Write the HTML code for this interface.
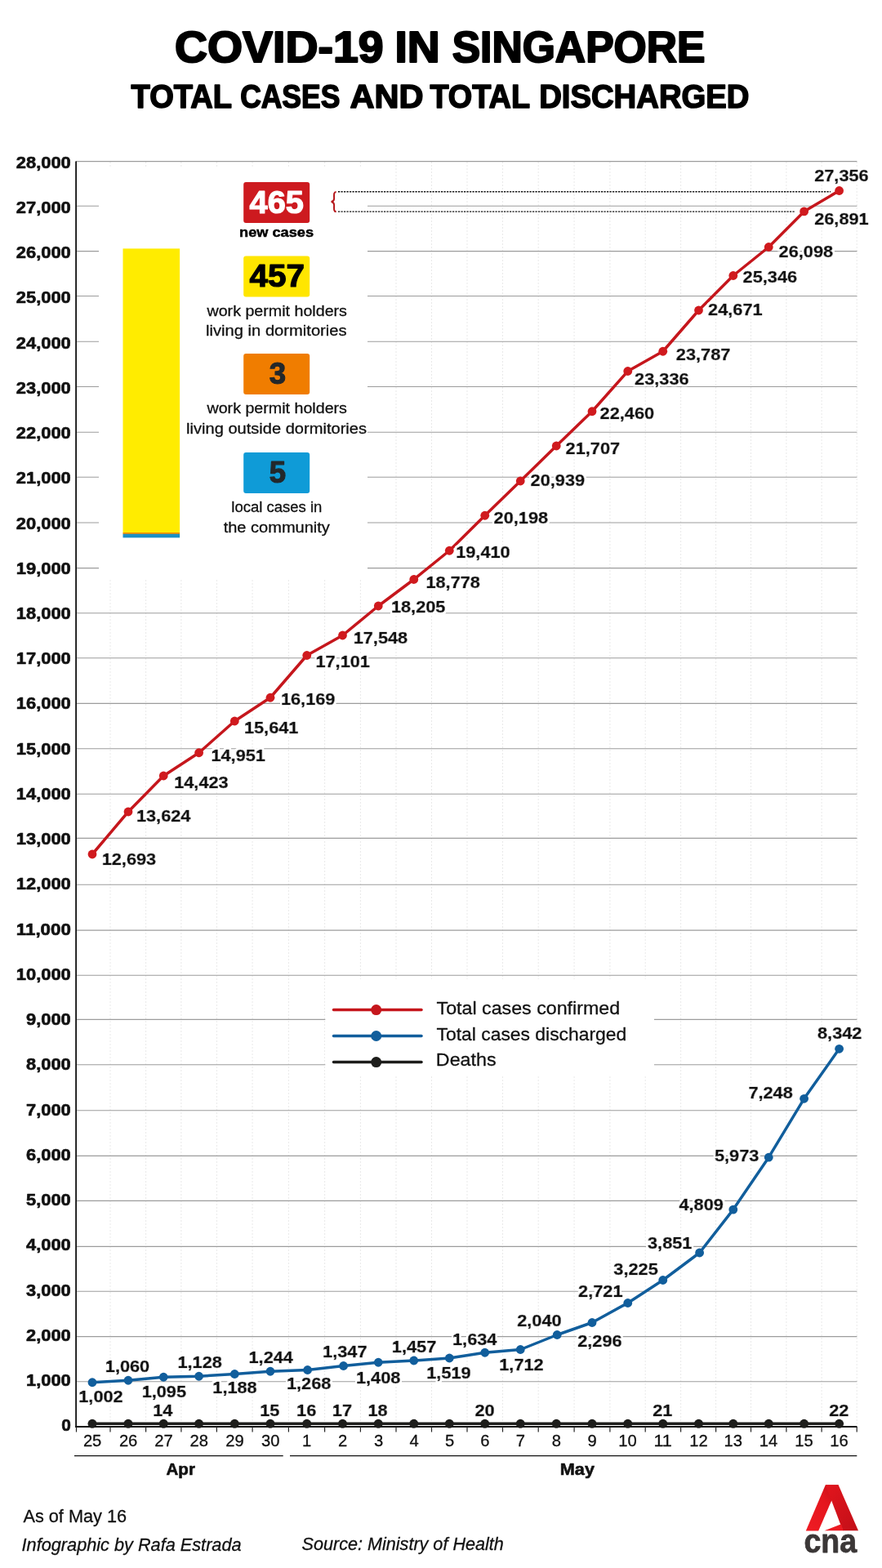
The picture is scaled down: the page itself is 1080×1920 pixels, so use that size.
<!DOCTYPE html>
<html lang="en"><head><meta charset="utf-8"><title>COVID-19 in Singapore</title>
<style>html,body{margin:0;padding:0;background:#fff}svg{display:block}</style></head>
<body>
<svg width="1080" height="1920" viewBox="0 0 1080 1920" font-family="'Liberation Sans', Arial, sans-serif">
<defs><filter id="halo" x="-10%" y="-25%" width="120%" height="150%"><feMorphology in="SourceAlpha" operator="dilate" radius="1.6" result="d"/><feGaussianBlur in="d" stdDeviation="0.4" result="b"/><feFlood flood-color="#fff"/><feComposite in2="b" operator="in" result="w"/><feMerge><feMergeNode in="w"/><feMergeNode in="w"/><feMergeNode in="SourceGraphic"/></feMerge></filter></defs>
<rect width="1080" height="1920" fill="#fff"/>
<line x1="135.0" y1="198" x2="135.0" y2="1746" stroke="#e9e9e9" stroke-width="1" stroke-dasharray="2 2"/>
<line x1="178.6" y1="198" x2="178.6" y2="1746" stroke="#e9e9e9" stroke-width="1" stroke-dasharray="2 2"/>
<line x1="221.9" y1="198" x2="221.9" y2="1746" stroke="#e9e9e9" stroke-width="1" stroke-dasharray="2 2"/>
<line x1="265.4" y1="198" x2="265.4" y2="1746" stroke="#e9e9e9" stroke-width="1" stroke-dasharray="2 2"/>
<line x1="309.1" y1="198" x2="309.1" y2="1746" stroke="#e9e9e9" stroke-width="1" stroke-dasharray="2 2"/>
<line x1="353.4" y1="198" x2="353.4" y2="1746" stroke="#e9e9e9" stroke-width="1" stroke-dasharray="2 2"/>
<line x1="397.6" y1="198" x2="397.6" y2="1746" stroke="#e9e9e9" stroke-width="1" stroke-dasharray="2 2"/>
<line x1="441.4" y1="198" x2="441.4" y2="1746" stroke="#e9e9e9" stroke-width="1" stroke-dasharray="2 2"/>
<line x1="485.0" y1="198" x2="485.0" y2="1746" stroke="#e9e9e9" stroke-width="1" stroke-dasharray="2 2"/>
<line x1="528.5" y1="198" x2="528.5" y2="1746" stroke="#e9e9e9" stroke-width="1" stroke-dasharray="2 2"/>
<line x1="572.0" y1="198" x2="572.0" y2="1746" stroke="#e9e9e9" stroke-width="1" stroke-dasharray="2 2"/>
<line x1="615.5" y1="198" x2="615.5" y2="1746" stroke="#e9e9e9" stroke-width="1" stroke-dasharray="2 2"/>
<line x1="659.2" y1="198" x2="659.2" y2="1746" stroke="#e9e9e9" stroke-width="1" stroke-dasharray="2 2"/>
<line x1="703.1" y1="198" x2="703.1" y2="1746" stroke="#e9e9e9" stroke-width="1" stroke-dasharray="2 2"/>
<line x1="746.9" y1="198" x2="746.9" y2="1746" stroke="#e9e9e9" stroke-width="1" stroke-dasharray="2 2"/>
<line x1="790.2" y1="198" x2="790.2" y2="1746" stroke="#e9e9e9" stroke-width="1" stroke-dasharray="2 2"/>
<line x1="833.6" y1="198" x2="833.6" y2="1746" stroke="#e9e9e9" stroke-width="1" stroke-dasharray="2 2"/>
<line x1="876.6" y1="198" x2="876.6" y2="1746" stroke="#e9e9e9" stroke-width="1" stroke-dasharray="2 2"/>
<line x1="919.5" y1="198" x2="919.5" y2="1746" stroke="#e9e9e9" stroke-width="1" stroke-dasharray="2 2"/>
<line x1="962.9" y1="198" x2="962.9" y2="1746" stroke="#e9e9e9" stroke-width="1" stroke-dasharray="2 2"/>
<line x1="1006.1" y1="198" x2="1006.1" y2="1746" stroke="#e9e9e9" stroke-width="1" stroke-dasharray="2 2"/>
<line x1="1049.2" y1="198" x2="1049.2" y2="1746" stroke="#e9e9e9" stroke-width="1" stroke-dasharray="2 2"/>
<line x1="93.1" y1="1691.80" x2="1049.4" y2="1691.80" stroke="#9c9c9c" stroke-width="1.1"/>
<line x1="93.1" y1="1636.60" x2="1049.4" y2="1636.60" stroke="#9c9c9c" stroke-width="1.1"/>
<line x1="93.1" y1="1581.20" x2="1049.4" y2="1581.20" stroke="#9c9c9c" stroke-width="1.1"/>
<line x1="93.1" y1="1526.40" x2="1049.4" y2="1526.40" stroke="#9c9c9c" stroke-width="1.1"/>
<line x1="93.1" y1="1470.40" x2="1049.4" y2="1470.40" stroke="#9c9c9c" stroke-width="1.1"/>
<line x1="93.1" y1="1415.40" x2="1049.4" y2="1415.40" stroke="#9c9c9c" stroke-width="1.1"/>
<line x1="93.1" y1="1359.80" x2="1049.4" y2="1359.80" stroke="#9c9c9c" stroke-width="1.1"/>
<line x1="93.1" y1="1303.80" x2="1049.4" y2="1303.80" stroke="#9c9c9c" stroke-width="1.1"/>
<line x1="93.1" y1="1248.40" x2="1049.4" y2="1248.40" stroke="#9c9c9c" stroke-width="1.1"/>
<line x1="93.1" y1="1194.30" x2="1049.4" y2="1194.30" stroke="#9c9c9c" stroke-width="1.1"/>
<line x1="93.1" y1="1139.10" x2="1049.4" y2="1139.10" stroke="#9c9c9c" stroke-width="1.1"/>
<line x1="93.1" y1="1083.30" x2="1049.4" y2="1083.30" stroke="#9c9c9c" stroke-width="1.1"/>
<line x1="93.1" y1="1026.40" x2="1049.4" y2="1026.40" stroke="#9c9c9c" stroke-width="1.1"/>
<line x1="93.1" y1="972.20" x2="1049.4" y2="972.20" stroke="#9c9c9c" stroke-width="1.1"/>
<line x1="93.1" y1="916.70" x2="1049.4" y2="916.70" stroke="#9c9c9c" stroke-width="1.1"/>
<line x1="93.1" y1="861.40" x2="1049.4" y2="861.40" stroke="#9c9c9c" stroke-width="1.1"/>
<line x1="93.1" y1="805.70" x2="1049.4" y2="805.70" stroke="#9c9c9c" stroke-width="1.1"/>
<line x1="93.1" y1="750.70" x2="1049.4" y2="750.70" stroke="#9c9c9c" stroke-width="1.1"/>
<line x1="93.1" y1="695.60" x2="1049.4" y2="695.60" stroke="#9c9c9c" stroke-width="1.1"/>
<line x1="93.1" y1="640.00" x2="1049.4" y2="640.00" stroke="#9c9c9c" stroke-width="1.1"/>
<line x1="93.1" y1="584.20" x2="1049.4" y2="584.20" stroke="#9c9c9c" stroke-width="1.1"/>
<line x1="93.1" y1="529.20" x2="1049.4" y2="529.20" stroke="#9c9c9c" stroke-width="1.1"/>
<line x1="93.1" y1="473.50" x2="1049.4" y2="473.50" stroke="#9c9c9c" stroke-width="1.1"/>
<line x1="93.1" y1="418.20" x2="1049.4" y2="418.20" stroke="#9c9c9c" stroke-width="1.1"/>
<line x1="93.1" y1="362.50" x2="1049.4" y2="362.50" stroke="#9c9c9c" stroke-width="1.1"/>
<line x1="93.1" y1="307.60" x2="1049.4" y2="307.60" stroke="#9c9c9c" stroke-width="1.1"/>
<line x1="93.1" y1="252.30" x2="1049.4" y2="252.30" stroke="#9c9c9c" stroke-width="1.1"/>
<line x1="93.1" y1="197.60" x2="1049.4" y2="197.60" stroke="#9c9c9c" stroke-width="1.1"/>
<rect x="121" y="204" width="329" height="506" fill="#fff"/>
<rect x="398.3" y="1199" width="402.7" height="119" fill="#fff"/>
<text x="75.17" y="1752.32" font-size="19.6" textLength="11.58" lengthAdjust="spacingAndGlyphs" font-weight="700" fill="#111" stroke="#111" stroke-width="0.6" stroke-linejoin="round">0</text>
<text x="32.14" y="1697.08" font-size="19.6" textLength="54.65" lengthAdjust="spacingAndGlyphs" font-weight="700" fill="#111" stroke="#111" stroke-width="0.6" stroke-linejoin="round">1,000</text>
<text x="32.14" y="1641.84" font-size="19.6" textLength="54.66" lengthAdjust="spacingAndGlyphs" font-weight="700" fill="#111" stroke="#111" stroke-width="0.6" stroke-linejoin="round">2,000</text>
<text x="32.13" y="1586.60" font-size="19.6" textLength="54.66" lengthAdjust="spacingAndGlyphs" font-weight="700" fill="#111" stroke="#111" stroke-width="0.6" stroke-linejoin="round">3,000</text>
<text x="32.13" y="1531.36" font-size="19.6" textLength="54.66" lengthAdjust="spacingAndGlyphs" font-weight="700" fill="#111" stroke="#111" stroke-width="0.6" stroke-linejoin="round">4,000</text>
<text x="32.14" y="1476.12" font-size="19.6" textLength="54.66" lengthAdjust="spacingAndGlyphs" font-weight="700" fill="#111" stroke="#111" stroke-width="0.6" stroke-linejoin="round">5,000</text>
<text x="32.14" y="1420.88" font-size="19.6" textLength="54.66" lengthAdjust="spacingAndGlyphs" font-weight="700" fill="#111" stroke="#111" stroke-width="0.6" stroke-linejoin="round">6,000</text>
<text x="32.14" y="1365.64" font-size="19.6" textLength="54.66" lengthAdjust="spacingAndGlyphs" font-weight="700" fill="#111" stroke="#111" stroke-width="0.6" stroke-linejoin="round">7,000</text>
<text x="32.14" y="1310.40" font-size="19.6" textLength="54.66" lengthAdjust="spacingAndGlyphs" font-weight="700" fill="#111" stroke="#111" stroke-width="0.6" stroke-linejoin="round">8,000</text>
<text x="32.14" y="1255.16" font-size="19.6" textLength="54.66" lengthAdjust="spacingAndGlyphs" font-weight="700" fill="#111" stroke="#111" stroke-width="0.6" stroke-linejoin="round">9,000</text>
<text x="19.86" y="1199.92" font-size="19.6" textLength="66.94" lengthAdjust="spacingAndGlyphs" font-weight="700" fill="#111" stroke="#111" stroke-width="0.6" stroke-linejoin="round">10,000</text>
<text x="19.86" y="1144.68" font-size="19.6" textLength="66.94" lengthAdjust="spacingAndGlyphs" font-weight="700" fill="#111" stroke="#111" stroke-width="0.6" stroke-linejoin="round">11,000</text>
<text x="19.86" y="1089.44" font-size="19.6" textLength="66.94" lengthAdjust="spacingAndGlyphs" font-weight="700" fill="#111" stroke="#111" stroke-width="0.6" stroke-linejoin="round">12,000</text>
<text x="19.86" y="1034.20" font-size="19.6" textLength="66.94" lengthAdjust="spacingAndGlyphs" font-weight="700" fill="#111" stroke="#111" stroke-width="0.6" stroke-linejoin="round">13,000</text>
<text x="19.86" y="978.96" font-size="19.6" textLength="66.94" lengthAdjust="spacingAndGlyphs" font-weight="700" fill="#111" stroke="#111" stroke-width="0.6" stroke-linejoin="round">14,000</text>
<text x="19.86" y="923.72" font-size="19.6" textLength="66.94" lengthAdjust="spacingAndGlyphs" font-weight="700" fill="#111" stroke="#111" stroke-width="0.6" stroke-linejoin="round">15,000</text>
<text x="19.86" y="868.48" font-size="19.6" textLength="66.94" lengthAdjust="spacingAndGlyphs" font-weight="700" fill="#111" stroke="#111" stroke-width="0.6" stroke-linejoin="round">16,000</text>
<text x="19.86" y="813.24" font-size="19.6" textLength="66.94" lengthAdjust="spacingAndGlyphs" font-weight="700" fill="#111" stroke="#111" stroke-width="0.6" stroke-linejoin="round">17,000</text>
<text x="19.86" y="758.00" font-size="19.6" textLength="66.94" lengthAdjust="spacingAndGlyphs" font-weight="700" fill="#111" stroke="#111" stroke-width="0.6" stroke-linejoin="round">18,000</text>
<text x="19.86" y="702.76" font-size="19.6" textLength="66.94" lengthAdjust="spacingAndGlyphs" font-weight="700" fill="#111" stroke="#111" stroke-width="0.6" stroke-linejoin="round">19,000</text>
<text x="19.85" y="647.52" font-size="19.6" textLength="66.95" lengthAdjust="spacingAndGlyphs" font-weight="700" fill="#111" stroke="#111" stroke-width="0.6" stroke-linejoin="round">20,000</text>
<text x="19.85" y="592.28" font-size="19.6" textLength="66.95" lengthAdjust="spacingAndGlyphs" font-weight="700" fill="#111" stroke="#111" stroke-width="0.6" stroke-linejoin="round">21,000</text>
<text x="19.85" y="537.04" font-size="19.6" textLength="66.95" lengthAdjust="spacingAndGlyphs" font-weight="700" fill="#111" stroke="#111" stroke-width="0.6" stroke-linejoin="round">22,000</text>
<text x="19.85" y="481.80" font-size="19.6" textLength="66.95" lengthAdjust="spacingAndGlyphs" font-weight="700" fill="#111" stroke="#111" stroke-width="0.6" stroke-linejoin="round">23,000</text>
<text x="19.85" y="426.56" font-size="19.6" textLength="66.95" lengthAdjust="spacingAndGlyphs" font-weight="700" fill="#111" stroke="#111" stroke-width="0.6" stroke-linejoin="round">24,000</text>
<text x="19.85" y="371.32" font-size="19.6" textLength="66.95" lengthAdjust="spacingAndGlyphs" font-weight="700" fill="#111" stroke="#111" stroke-width="0.6" stroke-linejoin="round">25,000</text>
<text x="19.85" y="316.08" font-size="19.6" textLength="66.95" lengthAdjust="spacingAndGlyphs" font-weight="700" fill="#111" stroke="#111" stroke-width="0.6" stroke-linejoin="round">26,000</text>
<text x="19.85" y="260.84" font-size="19.6" textLength="66.95" lengthAdjust="spacingAndGlyphs" font-weight="700" fill="#111" stroke="#111" stroke-width="0.6" stroke-linejoin="round">27,000</text>
<text x="19.85" y="205.60" font-size="19.6" textLength="66.95" lengthAdjust="spacingAndGlyphs" font-weight="700" fill="#111" stroke="#111" stroke-width="0.6" stroke-linejoin="round">28,000</text>
<line x1="93.1" y1="197.5" x2="93.1" y2="1748" stroke="#111" stroke-width="1.8"/>
<line x1="92.2" y1="1746.9" x2="1049.4" y2="1746.9" stroke="#111" stroke-width="2"/>
<line x1="93.5" y1="1747" x2="93.5" y2="1753.5" stroke="#222" stroke-width="1.2"/>
<line x1="135.0" y1="1747" x2="135.0" y2="1753.5" stroke="#222" stroke-width="1.2"/>
<line x1="178.6" y1="1747" x2="178.6" y2="1753.5" stroke="#222" stroke-width="1.2"/>
<line x1="221.9" y1="1747" x2="221.9" y2="1753.5" stroke="#222" stroke-width="1.2"/>
<line x1="265.4" y1="1747" x2="265.4" y2="1753.5" stroke="#222" stroke-width="1.2"/>
<line x1="309.1" y1="1747" x2="309.1" y2="1753.5" stroke="#222" stroke-width="1.2"/>
<line x1="353.4" y1="1747" x2="353.4" y2="1753.5" stroke="#222" stroke-width="1.2"/>
<line x1="397.6" y1="1747" x2="397.6" y2="1753.5" stroke="#222" stroke-width="1.2"/>
<line x1="441.4" y1="1747" x2="441.4" y2="1753.5" stroke="#222" stroke-width="1.2"/>
<line x1="485.0" y1="1747" x2="485.0" y2="1753.5" stroke="#222" stroke-width="1.2"/>
<line x1="528.5" y1="1747" x2="528.5" y2="1753.5" stroke="#222" stroke-width="1.2"/>
<line x1="572.0" y1="1747" x2="572.0" y2="1753.5" stroke="#222" stroke-width="1.2"/>
<line x1="615.5" y1="1747" x2="615.5" y2="1753.5" stroke="#222" stroke-width="1.2"/>
<line x1="659.2" y1="1747" x2="659.2" y2="1753.5" stroke="#222" stroke-width="1.2"/>
<line x1="703.1" y1="1747" x2="703.1" y2="1753.5" stroke="#222" stroke-width="1.2"/>
<line x1="746.9" y1="1747" x2="746.9" y2="1753.5" stroke="#222" stroke-width="1.2"/>
<line x1="790.2" y1="1747" x2="790.2" y2="1753.5" stroke="#222" stroke-width="1.2"/>
<line x1="833.6" y1="1747" x2="833.6" y2="1753.5" stroke="#222" stroke-width="1.2"/>
<line x1="876.6" y1="1747" x2="876.6" y2="1753.5" stroke="#222" stroke-width="1.2"/>
<line x1="919.5" y1="1747" x2="919.5" y2="1753.5" stroke="#222" stroke-width="1.2"/>
<line x1="962.9" y1="1747" x2="962.9" y2="1753.5" stroke="#222" stroke-width="1.2"/>
<line x1="1006.1" y1="1747" x2="1006.1" y2="1753.5" stroke="#222" stroke-width="1.2"/>
<line x1="1049.2" y1="1747" x2="1049.2" y2="1753.5" stroke="#222" stroke-width="1.2"/>
<text x="101.88" y="1771.15" font-size="20.2" textLength="22.47" lengthAdjust="spacingAndGlyphs" fill="#111" stroke="#111" stroke-width="0.3" stroke-linejoin="round">25</text>
<text x="145.90" y="1771.15" font-size="20.2" textLength="22.47" lengthAdjust="spacingAndGlyphs" fill="#111" stroke="#111" stroke-width="0.3" stroke-linejoin="round">26</text>
<text x="189.22" y="1771.15" font-size="20.2" textLength="22.47" lengthAdjust="spacingAndGlyphs" fill="#111" stroke="#111" stroke-width="0.3" stroke-linejoin="round">27</text>
<text x="232.50" y="1771.15" font-size="20.2" textLength="22.47" lengthAdjust="spacingAndGlyphs" fill="#111" stroke="#111" stroke-width="0.3" stroke-linejoin="round">28</text>
<text x="276.24" y="1771.15" font-size="20.2" textLength="22.47" lengthAdjust="spacingAndGlyphs" fill="#111" stroke="#111" stroke-width="0.3" stroke-linejoin="round">29</text>
<text x="319.98" y="1771.15" font-size="20.2" textLength="22.47" lengthAdjust="spacingAndGlyphs" fill="#111" stroke="#111" stroke-width="0.3" stroke-linejoin="round">30</text>
<text x="370.06" y="1771.15" font-size="20.2" textLength="11.23" lengthAdjust="spacingAndGlyphs" fill="#111" stroke="#111" stroke-width="0.3" stroke-linejoin="round">1</text>
<text x="414.08" y="1771.15" font-size="20.2" textLength="11.23" lengthAdjust="spacingAndGlyphs" fill="#111" stroke="#111" stroke-width="0.3" stroke-linejoin="round">2</text>
<text x="457.89" y="1771.15" font-size="20.2" textLength="11.23" lengthAdjust="spacingAndGlyphs" fill="#111" stroke="#111" stroke-width="0.3" stroke-linejoin="round">3</text>
<text x="501.40" y="1771.15" font-size="20.2" textLength="11.23" lengthAdjust="spacingAndGlyphs" fill="#111" stroke="#111" stroke-width="0.3" stroke-linejoin="round">4</text>
<text x="544.90" y="1771.15" font-size="20.2" textLength="11.23" lengthAdjust="spacingAndGlyphs" fill="#111" stroke="#111" stroke-width="0.3" stroke-linejoin="round">5</text>
<text x="588.26" y="1771.15" font-size="20.2" textLength="11.23" lengthAdjust="spacingAndGlyphs" fill="#111" stroke="#111" stroke-width="0.3" stroke-linejoin="round">6</text>
<text x="631.82" y="1771.15" font-size="20.2" textLength="11.23" lengthAdjust="spacingAndGlyphs" fill="#111" stroke="#111" stroke-width="0.3" stroke-linejoin="round">7</text>
<text x="675.83" y="1771.15" font-size="20.2" textLength="11.23" lengthAdjust="spacingAndGlyphs" fill="#111" stroke="#111" stroke-width="0.3" stroke-linejoin="round">8</text>
<text x="719.59" y="1771.15" font-size="20.2" textLength="11.23" lengthAdjust="spacingAndGlyphs" fill="#111" stroke="#111" stroke-width="0.3" stroke-linejoin="round">9</text>
<text x="757.34" y="1771.15" font-size="20.2" textLength="22.47" lengthAdjust="spacingAndGlyphs" fill="#111" stroke="#111" stroke-width="0.3" stroke-linejoin="round">10</text>
<text x="800.44" y="1771.15" font-size="20.2" textLength="22.47" lengthAdjust="spacingAndGlyphs" fill="#111" stroke="#111" stroke-width="0.3" stroke-linejoin="round">11</text>
<text x="844.20" y="1771.15" font-size="20.2" textLength="22.47" lengthAdjust="spacingAndGlyphs" fill="#111" stroke="#111" stroke-width="0.3" stroke-linejoin="round">12</text>
<text x="886.44" y="1771.15" font-size="20.2" textLength="22.47" lengthAdjust="spacingAndGlyphs" fill="#111" stroke="#111" stroke-width="0.3" stroke-linejoin="round">13</text>
<text x="929.74" y="1771.15" font-size="20.2" textLength="22.47" lengthAdjust="spacingAndGlyphs" fill="#111" stroke="#111" stroke-width="0.3" stroke-linejoin="round">14</text>
<text x="973.22" y="1771.15" font-size="20.2" textLength="22.47" lengthAdjust="spacingAndGlyphs" fill="#111" stroke="#111" stroke-width="0.3" stroke-linejoin="round">15</text>
<text x="1016.24" y="1771.15" font-size="20.2" textLength="22.47" lengthAdjust="spacingAndGlyphs" fill="#111" stroke="#111" stroke-width="0.3" stroke-linejoin="round">16</text>
<line x1="91" y1="1782.6" x2="346.7" y2="1782.6" stroke="#111" stroke-width="1.4"/>
<line x1="355" y1="1782.6" x2="1049.3" y2="1782.6" stroke="#111" stroke-width="1.4"/>
<text x="203.49" y="1805.70" font-size="20.6" textLength="35.42" lengthAdjust="spacingAndGlyphs" font-weight="700" fill="#111" stroke="#111" stroke-width="0.6" stroke-linejoin="round">Apr</text>
<text x="685.85" y="1805.70" font-size="20.6" textLength="42.06" lengthAdjust="spacingAndGlyphs" font-weight="700" fill="#111" stroke="#111" stroke-width="0.6" stroke-linejoin="round">May</text>
<text y="76.10" font-size="54.4" font-weight="700" fill="#000" stroke="#000" stroke-width="2.2" stroke-linejoin="round"><tspan x="214.03" textLength="255.53" lengthAdjust="spacingAndGlyphs">COVID-19</tspan> <tspan x="483.50" textLength="55.33" lengthAdjust="spacingAndGlyphs">IN</tspan> <tspan x="553.71" textLength="309.70" lengthAdjust="spacingAndGlyphs">SINGAPORE</tspan></text>
<text y="131.80" font-size="40" font-weight="700" fill="#000" stroke="#000" stroke-width="1.6" stroke-linejoin="round"><tspan x="160.59" textLength="122.75" lengthAdjust="spacingAndGlyphs">TOTAL</tspan> <tspan x="294.15" textLength="122.14" lengthAdjust="spacingAndGlyphs">CASES</tspan> <tspan x="428.46" textLength="90.08" lengthAdjust="spacingAndGlyphs">AND</tspan> <tspan x="526.39" textLength="121.94" lengthAdjust="spacingAndGlyphs">TOTAL</tspan> <tspan x="660.14" textLength="257.37" lengthAdjust="spacingAndGlyphs">DISCHARGED</tspan></text>
<rect x="150.5" y="304.4" width="69.6" height="348" fill="#ffec00"/>
<rect x="150.5" y="652" width="69.6" height="2" fill="#f39200"/>
<rect x="150.5" y="653.8" width="69.6" height="4.6" fill="#1b8fc6"/>
<rect x="298.2" y="223" width="81" height="50" rx="3" fill="#cd1a1f"/>
<text x="305.60" y="261.20" font-size="38.0" textLength="66.31" lengthAdjust="spacingAndGlyphs" font-weight="700" fill="#fff" stroke="#fff" stroke-width="1.2" stroke-linejoin="round">465</text>
<text x="293.05" y="289.75" font-size="17.3" textLength="90.94" lengthAdjust="spacingAndGlyphs" font-weight="700" fill="#000" stroke="#000" stroke-width="0.5" stroke-linejoin="round">new cases</text>
<rect x="298.2" y="313.6" width="81" height="50" rx="3" fill="#ffe600"/>
<text x="305.59" y="351.40" font-size="38.0" textLength="67.49" lengthAdjust="spacingAndGlyphs" font-weight="700" fill="#000" stroke="#000" stroke-width="1.2" stroke-linejoin="round">457</text>
<text x="253.48" y="387.25" font-size="18.8" textLength="171.48" lengthAdjust="spacingAndGlyphs" fill="#111" stroke="#111" stroke-width="0.3" stroke-linejoin="round">work permit holders</text>
<text x="252.09" y="411.25" font-size="18.8" textLength="172.49" lengthAdjust="spacingAndGlyphs" fill="#111" stroke="#111" stroke-width="0.3" stroke-linejoin="round">living in dormitories</text>
<rect x="298.2" y="433" width="81" height="50" rx="3" fill="#f07d00"/>
<text x="329.76" y="470.00" font-size="37.6" textLength="20.36" lengthAdjust="spacingAndGlyphs" font-weight="700" fill="#23282b" stroke="#23282b" stroke-width="1.2" stroke-linejoin="round">3</text>
<text x="253.48" y="505.95" font-size="18.8" textLength="171.48" lengthAdjust="spacingAndGlyphs" fill="#111" stroke="#111" stroke-width="0.3" stroke-linejoin="round">work permit holders</text>
<text x="228.10" y="530.95" font-size="18.8" textLength="220.88" lengthAdjust="spacingAndGlyphs" fill="#111" stroke="#111" stroke-width="0.3" stroke-linejoin="round">living outside dormitories</text>
<rect x="298.2" y="554" width="81" height="50" rx="3" fill="#0f9bd7"/>
<text x="329.87" y="591.30" font-size="37.6" textLength="20.34" lengthAdjust="spacingAndGlyphs" font-weight="700" fill="#23282b" stroke="#23282b" stroke-width="1.2" stroke-linejoin="round">5</text>
<text x="283.30" y="627.45" font-size="18.8" textLength="111.05" lengthAdjust="spacingAndGlyphs" fill="#111" stroke="#111" stroke-width="0.3" stroke-linejoin="round">local cases in</text>
<text x="273.65" y="651.95" font-size="18.8" textLength="130.24" lengthAdjust="spacingAndGlyphs" fill="#111" stroke="#111" stroke-width="0.3" stroke-linejoin="round">the community</text>
<path d="M411.6 235 C408.2 235 409.2 239.5 409.1 243.2 C409 245.8 407.6 246.8 405.6 247.1 C407.6 247.4 409 248.4 409.1 251 C409.2 254.7 408.2 259.2 411.6 259.2" fill="none" stroke="#b5161a" stroke-width="2"/>
<line x1="414" y1="234.8" x2="1017" y2="234.8" stroke="#111" stroke-width="1.4" stroke-dasharray="2.2 1.3"/>
<line x1="414" y1="259.1" x2="973" y2="259.1" stroke="#111" stroke-width="1.4" stroke-dasharray="2.2 1.3"/>
<polyline points="113.00,1743.30 157.00,1743.30 200.25,1743.30 243.60,1743.30 287.30,1743.30 331.00,1743.30 375.75,1743.30 419.50,1743.30 463.25,1743.30 506.75,1743.30 550.30,1743.30 593.75,1743.30 637.25,1743.30 681.25,1743.30 725.00,1743.30 768.75,1743.30 811.75,1743.30 855.50,1743.30 897.80,1743.30 941.25,1743.30 984.60,1743.30 1027.60,1743.30" fill="none" stroke="#1d1d1b" stroke-width="3.6" stroke-linejoin="round"/>
<circle cx="113.00" cy="1743.30" r="5.5" fill="#1d1d1b"/>
<circle cx="157.00" cy="1743.30" r="5.5" fill="#1d1d1b"/>
<circle cx="200.25" cy="1743.30" r="5.5" fill="#1d1d1b"/>
<circle cx="243.60" cy="1743.30" r="5.5" fill="#1d1d1b"/>
<circle cx="287.30" cy="1743.30" r="5.5" fill="#1d1d1b"/>
<circle cx="331.00" cy="1743.30" r="5.5" fill="#1d1d1b"/>
<circle cx="375.75" cy="1743.30" r="5.5" fill="#1d1d1b"/>
<circle cx="419.50" cy="1743.30" r="5.5" fill="#1d1d1b"/>
<circle cx="463.25" cy="1743.30" r="5.5" fill="#1d1d1b"/>
<circle cx="506.75" cy="1743.30" r="5.5" fill="#1d1d1b"/>
<circle cx="550.30" cy="1743.30" r="5.5" fill="#1d1d1b"/>
<circle cx="593.75" cy="1743.30" r="5.5" fill="#1d1d1b"/>
<circle cx="637.25" cy="1743.30" r="5.5" fill="#1d1d1b"/>
<circle cx="681.25" cy="1743.30" r="5.5" fill="#1d1d1b"/>
<circle cx="725.00" cy="1743.30" r="5.5" fill="#1d1d1b"/>
<circle cx="768.75" cy="1743.30" r="5.5" fill="#1d1d1b"/>
<circle cx="811.75" cy="1743.30" r="5.5" fill="#1d1d1b"/>
<circle cx="855.50" cy="1743.30" r="5.5" fill="#1d1d1b"/>
<circle cx="897.80" cy="1743.30" r="5.5" fill="#1d1d1b"/>
<circle cx="941.25" cy="1743.30" r="5.5" fill="#1d1d1b"/>
<circle cx="984.60" cy="1743.30" r="5.5" fill="#1d1d1b"/>
<circle cx="1027.60" cy="1743.30" r="5.5" fill="#1d1d1b"/>
<polyline points="113.00,1692.75 157.00,1690.25 200.25,1686.25 243.60,1685.25 287.30,1682.50 331.00,1679.25 376.60,1677.50 420.60,1672.50 463.25,1668.25 506.75,1666.00 550.30,1663.00 593.75,1656.25 637.25,1652.50 682.20,1634.50 725.00,1619.50 768.75,1595.50 811.75,1567.50 856.60,1534.00 897.80,1481.10 941.25,1417.20 984.60,1345.30 1027.60,1284.30" fill="none" stroke="#115e9c" stroke-width="3.5" stroke-linejoin="round"/>
<circle cx="113.00" cy="1692.75" r="5.4" fill="#115e9c"/>
<circle cx="157.00" cy="1690.25" r="5.4" fill="#115e9c"/>
<circle cx="200.25" cy="1686.25" r="5.4" fill="#115e9c"/>
<circle cx="243.60" cy="1685.25" r="5.4" fill="#115e9c"/>
<circle cx="287.30" cy="1682.50" r="5.4" fill="#115e9c"/>
<circle cx="331.00" cy="1679.25" r="5.4" fill="#115e9c"/>
<circle cx="376.60" cy="1677.50" r="5.4" fill="#115e9c"/>
<circle cx="420.60" cy="1672.50" r="5.4" fill="#115e9c"/>
<circle cx="463.25" cy="1668.25" r="5.4" fill="#115e9c"/>
<circle cx="506.75" cy="1666.00" r="5.4" fill="#115e9c"/>
<circle cx="550.30" cy="1663.00" r="5.4" fill="#115e9c"/>
<circle cx="593.75" cy="1656.25" r="5.4" fill="#115e9c"/>
<circle cx="637.25" cy="1652.50" r="5.4" fill="#115e9c"/>
<circle cx="682.20" cy="1634.50" r="5.4" fill="#115e9c"/>
<circle cx="725.00" cy="1619.50" r="5.4" fill="#115e9c"/>
<circle cx="768.75" cy="1595.50" r="5.4" fill="#115e9c"/>
<circle cx="811.75" cy="1567.50" r="5.4" fill="#115e9c"/>
<circle cx="856.60" cy="1534.00" r="5.4" fill="#115e9c"/>
<circle cx="897.80" cy="1481.10" r="5.4" fill="#115e9c"/>
<circle cx="941.25" cy="1417.20" r="5.4" fill="#115e9c"/>
<circle cx="984.60" cy="1345.30" r="5.4" fill="#115e9c"/>
<circle cx="1027.60" cy="1284.30" r="5.4" fill="#115e9c"/>
<polyline points="113.00,1046.00 157.00,994.00 200.25,950.00 243.60,921.75 287.30,883.00 331.00,854.25 375.75,802.50 419.50,778.00 463.25,742.00 506.75,709.50 550.30,674.25 593.75,631.25 637.25,589.00 681.25,546.00 725.00,503.75 768.75,454.50 811.75,430.25 855.50,380.00 897.80,337.50 941.25,302.50 984.60,258.90 1027.60,233.50" fill="none" stroke="#c5161c" stroke-width="3.5" stroke-linejoin="round"/>
<circle cx="113.00" cy="1046.00" r="5.4" fill="#d01a1e"/>
<circle cx="157.00" cy="994.00" r="5.4" fill="#d01a1e"/>
<circle cx="200.25" cy="950.00" r="5.4" fill="#d01a1e"/>
<circle cx="243.60" cy="921.75" r="5.4" fill="#d01a1e"/>
<circle cx="287.30" cy="883.00" r="5.4" fill="#d01a1e"/>
<circle cx="331.00" cy="854.25" r="5.4" fill="#d01a1e"/>
<circle cx="375.75" cy="802.50" r="5.4" fill="#d01a1e"/>
<circle cx="419.50" cy="778.00" r="5.4" fill="#d01a1e"/>
<circle cx="463.25" cy="742.00" r="5.4" fill="#d01a1e"/>
<circle cx="506.75" cy="709.50" r="5.4" fill="#d01a1e"/>
<circle cx="550.30" cy="674.25" r="5.4" fill="#d01a1e"/>
<circle cx="593.75" cy="631.25" r="5.4" fill="#d01a1e"/>
<circle cx="637.25" cy="589.00" r="5.4" fill="#d01a1e"/>
<circle cx="681.25" cy="546.00" r="5.4" fill="#d01a1e"/>
<circle cx="725.00" cy="503.75" r="5.4" fill="#d01a1e"/>
<circle cx="768.75" cy="454.50" r="5.4" fill="#d01a1e"/>
<circle cx="811.75" cy="430.25" r="5.4" fill="#d01a1e"/>
<circle cx="855.50" cy="380.00" r="5.4" fill="#d01a1e"/>
<circle cx="897.80" cy="337.50" r="5.4" fill="#d01a1e"/>
<circle cx="941.25" cy="302.50" r="5.4" fill="#d01a1e"/>
<circle cx="984.60" cy="258.90" r="5.4" fill="#d01a1e"/>
<circle cx="1027.60" cy="233.50" r="5.4" fill="#d01a1e"/>
<text x="124.68" y="1059.35" font-size="19.6" textLength="66.54" lengthAdjust="spacingAndGlyphs" font-weight="700" filter="url(#halo)" fill="#111" stroke="#111" stroke-width="0.6" stroke-linejoin="round">12,693</text>
<text x="166.93" y="1006.35" font-size="19.6" textLength="66.54" lengthAdjust="spacingAndGlyphs" font-weight="700" filter="url(#halo)" fill="#111" stroke="#111" stroke-width="0.6" stroke-linejoin="round">13,624</text>
<text x="213.18" y="964.85" font-size="19.6" textLength="66.54" lengthAdjust="spacingAndGlyphs" font-weight="700" filter="url(#halo)" fill="#111" stroke="#111" stroke-width="0.6" stroke-linejoin="round">14,423</text>
<text x="258.43" y="931.85" font-size="19.6" textLength="66.54" lengthAdjust="spacingAndGlyphs" font-weight="700" filter="url(#halo)" fill="#111" stroke="#111" stroke-width="0.6" stroke-linejoin="round">14,951</text>
<text x="298.93" y="898.10" font-size="19.6" textLength="66.54" lengthAdjust="spacingAndGlyphs" font-weight="700" filter="url(#halo)" fill="#111" stroke="#111" stroke-width="0.6" stroke-linejoin="round">15,641</text>
<text x="343.93" y="863.10" font-size="19.6" textLength="66.54" lengthAdjust="spacingAndGlyphs" font-weight="700" filter="url(#halo)" fill="#111" stroke="#111" stroke-width="0.6" stroke-linejoin="round">16,169</text>
<text x="386.43" y="816.85" font-size="19.6" textLength="66.54" lengthAdjust="spacingAndGlyphs" font-weight="700" filter="url(#halo)" fill="#111" stroke="#111" stroke-width="0.6" stroke-linejoin="round">17,101</text>
<text x="432.68" y="788.10" font-size="19.6" textLength="66.54" lengthAdjust="spacingAndGlyphs" font-weight="700" filter="url(#halo)" fill="#111" stroke="#111" stroke-width="0.6" stroke-linejoin="round">17,548</text>
<text x="478.93" y="749.85" font-size="19.6" textLength="66.54" lengthAdjust="spacingAndGlyphs" font-weight="700" filter="url(#halo)" fill="#111" stroke="#111" stroke-width="0.6" stroke-linejoin="round">18,205</text>
<text x="521.43" y="720.10" font-size="19.6" textLength="66.54" lengthAdjust="spacingAndGlyphs" font-weight="700" filter="url(#halo)" fill="#111" stroke="#111" stroke-width="0.6" stroke-linejoin="round">18,778</text>
<text x="558.18" y="683.10" font-size="19.6" textLength="66.54" lengthAdjust="spacingAndGlyphs" font-weight="700" filter="url(#halo)" fill="#111" stroke="#111" stroke-width="0.6" stroke-linejoin="round">19,410</text>
<text x="604.55" y="641.35" font-size="19.6" textLength="66.54" lengthAdjust="spacingAndGlyphs" font-weight="700" filter="url(#halo)" fill="#111" stroke="#111" stroke-width="0.6" stroke-linejoin="round">20,198</text>
<text x="649.55" y="594.85" font-size="19.6" textLength="66.54" lengthAdjust="spacingAndGlyphs" font-weight="700" filter="url(#halo)" fill="#111" stroke="#111" stroke-width="0.6" stroke-linejoin="round">20,939</text>
<text x="692.55" y="555.60" font-size="19.6" textLength="66.54" lengthAdjust="spacingAndGlyphs" font-weight="700" filter="url(#halo)" fill="#111" stroke="#111" stroke-width="0.6" stroke-linejoin="round">21,707</text>
<text x="734.55" y="512.60" font-size="19.6" textLength="66.54" lengthAdjust="spacingAndGlyphs" font-weight="700" filter="url(#halo)" fill="#111" stroke="#111" stroke-width="0.6" stroke-linejoin="round">22,460</text>
<text x="777.05" y="471.35" font-size="19.6" textLength="66.54" lengthAdjust="spacingAndGlyphs" font-weight="700" filter="url(#halo)" fill="#111" stroke="#111" stroke-width="0.6" stroke-linejoin="round">23,336</text>
<text x="827.80" y="441.10" font-size="19.6" textLength="66.54" lengthAdjust="spacingAndGlyphs" font-weight="700" filter="url(#halo)" fill="#111" stroke="#111" stroke-width="0.6" stroke-linejoin="round">23,787</text>
<text x="867.05" y="386.10" font-size="19.6" textLength="66.54" lengthAdjust="spacingAndGlyphs" font-weight="700" filter="url(#halo)" fill="#111" stroke="#111" stroke-width="0.6" stroke-linejoin="round">24,671</text>
<text x="909.55" y="345.60" font-size="19.6" textLength="66.54" lengthAdjust="spacingAndGlyphs" font-weight="700" filter="url(#halo)" fill="#111" stroke="#111" stroke-width="0.6" stroke-linejoin="round">25,346</text>
<text x="953.55" y="314.90" font-size="19.6" textLength="66.54" lengthAdjust="spacingAndGlyphs" font-weight="700" filter="url(#halo)" fill="#111" stroke="#111" stroke-width="0.6" stroke-linejoin="round">26,098</text>
<text x="997.15" y="275.20" font-size="19.6" textLength="66.54" lengthAdjust="spacingAndGlyphs" font-weight="700" filter="url(#halo)" fill="#111" stroke="#111" stroke-width="0.6" stroke-linejoin="round">26,891</text>
<text x="997.15" y="222.10" font-size="19.6" textLength="66.54" lengthAdjust="spacingAndGlyphs" font-weight="700" filter="url(#halo)" fill="#111" stroke="#111" stroke-width="0.6" stroke-linejoin="round">27,356</text>
<text x="96.28" y="1717.35" font-size="19.6" textLength="54.44" lengthAdjust="spacingAndGlyphs" font-weight="700" filter="url(#halo)" fill="#111" stroke="#111" stroke-width="0.6" stroke-linejoin="round">1,002</text>
<text x="128.79" y="1679.85" font-size="19.6" textLength="54.44" lengthAdjust="spacingAndGlyphs" font-weight="700" filter="url(#halo)" fill="#111" stroke="#111" stroke-width="0.6" stroke-linejoin="round">1,060</text>
<text x="173.65" y="1710.60" font-size="19.6" textLength="54.44" lengthAdjust="spacingAndGlyphs" font-weight="700" filter="url(#halo)" fill="#111" stroke="#111" stroke-width="0.6" stroke-linejoin="round">1,095</text>
<text x="217.43" y="1674.85" font-size="19.6" textLength="54.44" lengthAdjust="spacingAndGlyphs" font-weight="700" filter="url(#halo)" fill="#111" stroke="#111" stroke-width="0.6" stroke-linejoin="round">1,128</text>
<text x="260.30" y="1706.35" font-size="19.6" textLength="54.44" lengthAdjust="spacingAndGlyphs" font-weight="700" filter="url(#halo)" fill="#111" stroke="#111" stroke-width="0.6" stroke-linejoin="round">1,188</text>
<text x="304.53" y="1668.60" font-size="19.6" textLength="54.44" lengthAdjust="spacingAndGlyphs" font-weight="700" filter="url(#halo)" fill="#111" stroke="#111" stroke-width="0.6" stroke-linejoin="round">1,244</text>
<text x="350.93" y="1701.35" font-size="19.6" textLength="54.44" lengthAdjust="spacingAndGlyphs" font-weight="700" filter="url(#halo)" fill="#111" stroke="#111" stroke-width="0.6" stroke-linejoin="round">1,268</text>
<text x="395.07" y="1662.35" font-size="19.6" textLength="54.44" lengthAdjust="spacingAndGlyphs" font-weight="700" filter="url(#halo)" fill="#111" stroke="#111" stroke-width="0.6" stroke-linejoin="round">1,347</text>
<text x="435.93" y="1694.35" font-size="19.6" textLength="54.44" lengthAdjust="spacingAndGlyphs" font-weight="700" filter="url(#halo)" fill="#111" stroke="#111" stroke-width="0.6" stroke-linejoin="round">1,408</text>
<text x="479.82" y="1656.10" font-size="19.6" textLength="54.44" lengthAdjust="spacingAndGlyphs" font-weight="700" filter="url(#halo)" fill="#111" stroke="#111" stroke-width="0.6" stroke-linejoin="round">1,457</text>
<text x="522.25" y="1688.10" font-size="19.6" textLength="54.44" lengthAdjust="spacingAndGlyphs" font-weight="700" filter="url(#halo)" fill="#111" stroke="#111" stroke-width="0.6" stroke-linejoin="round">1,519</text>
<text x="554.03" y="1647.35" font-size="19.6" textLength="54.44" lengthAdjust="spacingAndGlyphs" font-weight="700" filter="url(#halo)" fill="#111" stroke="#111" stroke-width="0.6" stroke-linejoin="round">1,634</text>
<text x="611.28" y="1678.10" font-size="19.6" textLength="54.44" lengthAdjust="spacingAndGlyphs" font-weight="700" filter="url(#halo)" fill="#111" stroke="#111" stroke-width="0.6" stroke-linejoin="round">1,712</text>
<text x="633.22" y="1623.85" font-size="19.6" textLength="54.44" lengthAdjust="spacingAndGlyphs" font-weight="700" filter="url(#halo)" fill="#111" stroke="#111" stroke-width="0.6" stroke-linejoin="round">2,040</text>
<text x="707.17" y="1648.60" font-size="19.6" textLength="54.44" lengthAdjust="spacingAndGlyphs" font-weight="700" filter="url(#halo)" fill="#111" stroke="#111" stroke-width="0.6" stroke-linejoin="round">2,296</text>
<text x="708.08" y="1588.10" font-size="19.6" textLength="54.44" lengthAdjust="spacingAndGlyphs" font-weight="700" filter="url(#halo)" fill="#111" stroke="#111" stroke-width="0.6" stroke-linejoin="round">2,721</text>
<text x="751.33" y="1560.60" font-size="19.6" textLength="54.44" lengthAdjust="spacingAndGlyphs" font-weight="700" filter="url(#halo)" fill="#111" stroke="#111" stroke-width="0.6" stroke-linejoin="round">3,225</text>
<text x="793.03" y="1528.70" font-size="19.6" textLength="54.44" lengthAdjust="spacingAndGlyphs" font-weight="700" filter="url(#halo)" fill="#111" stroke="#111" stroke-width="0.6" stroke-linejoin="round">3,851</text>
<text x="831.47" y="1481.50" font-size="19.6" textLength="54.44" lengthAdjust="spacingAndGlyphs" font-weight="700" filter="url(#halo)" fill="#111" stroke="#111" stroke-width="0.6" stroke-linejoin="round">4,809</text>
<text x="874.94" y="1421.90" font-size="19.6" textLength="54.44" lengthAdjust="spacingAndGlyphs" font-weight="700" filter="url(#halo)" fill="#111" stroke="#111" stroke-width="0.6" stroke-linejoin="round">5,973</text>
<text x="916.40" y="1345.30" font-size="19.6" textLength="54.44" lengthAdjust="spacingAndGlyphs" font-weight="700" filter="url(#halo)" fill="#111" stroke="#111" stroke-width="0.6" stroke-linejoin="round">7,248</text>
<text x="1001.02" y="1271.50" font-size="19.6" textLength="54.44" lengthAdjust="spacingAndGlyphs" font-weight="700" filter="url(#halo)" fill="#111" stroke="#111" stroke-width="0.6" stroke-linejoin="round">8,342</text>
<text x="187.22" y="1734.30" font-size="19.6" textLength="24.20" lengthAdjust="spacingAndGlyphs" font-weight="700" filter="url(#halo)" fill="#111" stroke="#111" stroke-width="0.6" stroke-linejoin="round">14</text>
<text x="318.22" y="1734.30" font-size="19.6" textLength="24.20" lengthAdjust="spacingAndGlyphs" font-weight="700" filter="url(#halo)" fill="#111" stroke="#111" stroke-width="0.6" stroke-linejoin="round">15</text>
<text x="363.06" y="1734.30" font-size="19.6" textLength="24.20" lengthAdjust="spacingAndGlyphs" font-weight="700" filter="url(#halo)" fill="#111" stroke="#111" stroke-width="0.6" stroke-linejoin="round">16</text>
<text x="406.89" y="1734.30" font-size="19.6" textLength="24.20" lengthAdjust="spacingAndGlyphs" font-weight="700" filter="url(#halo)" fill="#111" stroke="#111" stroke-width="0.6" stroke-linejoin="round">17</text>
<text x="450.50" y="1734.30" font-size="19.6" textLength="24.20" lengthAdjust="spacingAndGlyphs" font-weight="700" filter="url(#halo)" fill="#111" stroke="#111" stroke-width="0.6" stroke-linejoin="round">18</text>
<text x="581.42" y="1734.30" font-size="19.6" textLength="24.20" lengthAdjust="spacingAndGlyphs" font-weight="700" filter="url(#halo)" fill="#111" stroke="#111" stroke-width="0.6" stroke-linejoin="round">20</text>
<text x="799.28" y="1734.30" font-size="19.6" textLength="24.20" lengthAdjust="spacingAndGlyphs" font-weight="700" filter="url(#halo)" fill="#111" stroke="#111" stroke-width="0.6" stroke-linejoin="round">21</text>
<text x="1015.26" y="1734.30" font-size="19.6" textLength="24.20" lengthAdjust="spacingAndGlyphs" font-weight="700" filter="url(#halo)" fill="#111" stroke="#111" stroke-width="0.6" stroke-linejoin="round">22</text>
<line x1="408.5" y1="1236.6" x2="516" y2="1236.6" stroke="#c5161c" stroke-width="3.5" stroke-linecap="round"/>
<circle cx="460.7" cy="1236.6" r="6.5" fill="#c5161c"/>
<line x1="408.5" y1="1268.5" x2="516" y2="1268.5" stroke="#115e9c" stroke-width="3.5" stroke-linecap="round"/>
<circle cx="460.7" cy="1268.5" r="6.5" fill="#115e9c"/>
<line x1="408.5" y1="1300.6" x2="516" y2="1300.6" stroke="#1d1d1b" stroke-width="3.5" stroke-linecap="round"/>
<circle cx="460.7" cy="1300.6" r="6.5" fill="#1d1d1b"/>
<text x="534.53" y="1242.45" font-size="22.6" textLength="224.60" lengthAdjust="spacingAndGlyphs" fill="#111" stroke="#111" stroke-width="0.3" stroke-linejoin="round">Total cases confirmed</text>
<text x="534.54" y="1273.85" font-size="22.6" textLength="232.77" lengthAdjust="spacingAndGlyphs" fill="#111" stroke="#111" stroke-width="0.3" stroke-linejoin="round">Total cases discharged</text>
<text x="533.84" y="1305.45" font-size="22.6" textLength="73.75" lengthAdjust="spacingAndGlyphs" fill="#111" stroke="#111" stroke-width="0.3" stroke-linejoin="round">Deaths</text>
<text x="28.41" y="1863.85" font-size="22.8" textLength="126.70" lengthAdjust="spacingAndGlyphs" fill="#111" stroke="#111" stroke-width="0.3" stroke-linejoin="round">As of May 16</text>
<text x="26.59" y="1898.85" font-size="22.8" textLength="269.00" lengthAdjust="spacingAndGlyphs" font-style="italic" fill="#111" stroke="#111" stroke-width="0.3" stroke-linejoin="round">Infographic by Rafa Estrada</text>
<text x="369.54" y="1898.35" font-size="22.8" textLength="247.30" lengthAdjust="spacingAndGlyphs" font-style="italic" fill="#111" stroke="#111" stroke-width="0.3" stroke-linejoin="round">Source: Ministry of Health</text>
<g>
<defs><linearGradient id="lg1" x1="0" y1="1" x2="1" y2="0"><stop offset="0" stop-color="#ef1c24"/><stop offset="0.6" stop-color="#e5161e"/><stop offset="1" stop-color="#bf0f17"/></linearGradient><linearGradient id="lg2" x1="0" y1="0" x2="1" y2="1"><stop offset="0" stop-color="#e2151d"/><stop offset="1" stop-color="#c20f18"/></linearGradient></defs>
<polygon points="1010.8,1818.2 1026.6,1818.2 1002.2,1874.5 986.8,1874.5" fill="url(#lg1)"/>
<polygon points="1010.8,1818.2 1026.6,1818.2 1051,1874.2 1032.1,1874.2" fill="url(#lg2)"/>
<polygon points="1009.6,1874.2 1030.1,1866.2 1032.6,1874.2" fill="#ec1a22"/>
</g>
<text x="984.53" y="1901.20" font-size="40.4" textLength="64.63" lengthAdjust="spacingAndGlyphs" font-weight="700" fill="#3b3737" stroke="#3b3737" stroke-width="0.8" stroke-linejoin="round">cna</text>
</svg>
</body></html>
